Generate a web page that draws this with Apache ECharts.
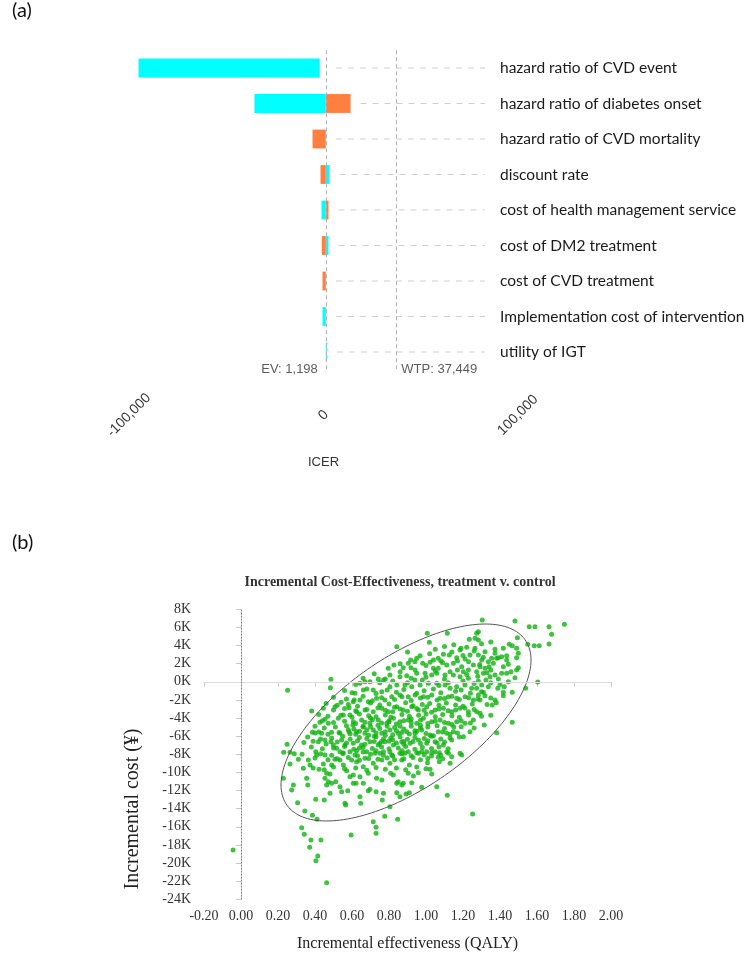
<!DOCTYPE html>
<html>
<head>
<meta charset="utf-8">
<script src="https://cdn.jsdelivr.net/npm/echarts@6/dist/echarts.min.js"></script>
<style>
html,body{margin:0;padding:0;background:#fff;}
#main{width:750px;height:958px;}
</style>
</head>
<body>
<div id="main"></div>
<script>
// ---------- (a) tornado diagram data ----------
const categories = [
  'hazard ratio of CVD event',
  'hazard ratio of diabetes onset',
  'hazard ratio of CVD mortality',
  'discount rate',
  'cost of health management service',
  'cost of DM2 treatment',
  'cost of CVD treatment',
  'Implementation cost of intervention',
  'utility of IGT'
];
const cyanLow   = [-95100, -35500, null, 1198, -1030, 1198, null, -510, 1198];
const cyanHigh  = [-2000, 1198, null, 3085, 1198, 2570, null, 1198, 1700];
const orangeLow = [null, 1198, -5650, -1540, 1198, -870, -510, null, null];
const orangeHigh= [null, 13900, 1198, 1198, 2570, 1198, 1198, null, null];
const evValue = 1198;
const wtpValue = 37449;
const guideEndValue = 83000;
const icerTicks = [-100000, 0, 100000];

// ---------- (b) PSA scatter data: [incremental QALY, incremental cost (K)] ----------
const psaPoints = [
[0.486,0.28],[0.483,-0.65],[0.252,-0.94],[0.382,-3.22],[0.445,-2.93],[0.541,-2.26],[0.508,-2.75],[0.584,-2.86],[0.612,-2.0],
[0.454,-4.14],[0.427,-4.47],[0.472,-4.58],[0.526,-4.03],[0.553,-3.66],[0.589,-3.66],[0.605,-4.77],[0.386,-5.57],[0.4,-5.65],
[0.436,-5.69],[0.49,-5.57],[0.535,-5.69],[0.584,-5.5],[0.418,-6.61],[0.454,-6.42],[0.486,-6.61],[0.499,-6.97],[0.517,-7.34],
[0.544,-6.42],[0.562,-6.97],[0.607,-6.79],[0.589,-7.71],[0.535,-7.71],[0.249,-6.9],[0.231,-7.78],[0.265,-7.78],[0.288,-7.93],[0.404,-7.71],
[0.265,-9.07],[0.31,-8.55],[0.337,-9.55],[0.229,-10.65],[0.283,-11.39],[0.274,-11.94],[0.306,-13.34],[0.355,-10.65],[0.361,-11.39],
[0.345,-14.26],[0.386,-14.73],[0.404,-12.97],[0.411,-15.17],[0.45,-13.04],[0.328,-16.1],[0.342,-16.83],[0.378,-17.46],[0.432,-17.46],
[0.371,-18.26],[0.415,-19.22],[0.405,-19.74],[0.463,-22.17],[-0.043,-18.56],[0.595,-16.9],
[0.409,-8.08],[0.454,-8.08],[0.445,-9.07],[0.49,-9.18],[0.364,-8.63],[0.373,-9.18],[0.422,-9.66],[0.463,-10.1],[0.481,-10.17],
[0.454,-10.65],[0.472,-11.02],[0.463,-11.39],[0.49,-11.2],[0.512,-11.02],[0.535,-11.57],[0.544,-12.13],[0.481,-12.3],[0.508,-8.55],
[0.535,-8.63],[0.553,-9.18],[0.571,-9.81],[0.589,-10.47],[0.577,-12.02],[0.562,-13.41],[0.566,-13.59],[0.598,-8.63],[0.607,-11.2],[0.553,-7.85],
[0.715,-15.44],[0.73,-16.06],[0.73,-16.72],[0.777,-14.84],[0.847,-15.17],[1.115,-12.52],[1.252,-14.59],[0.805,-13.78],[0.764,-13.04],
[0.77,-12.3],[0.842,-12.24],[0.859,-12.68],[0.892,-12.38],[0.91,-12.24],[0.647,-13.41],[0.643,-12.68],[0.688,-12.02],[0.73,-12.13],
[0.622,-11.2],[0.661,-11.2],[0.697,-11.86],[0.761,-10.84],[0.607,-10.28],[0.643,-10.47],[0.688,-10.1],[0.733,-10.65],[0.809,-10.1],
[0.842,-11.2],[0.85,-11.02],[0.877,-11.2],[0.823,-10.28],[0.869,-11.39],[0.923,-11.13],[0.904,-10.1],[0.932,-10.39],[0.958,-10.03],
[0.977,-11.64],[1.008,-8.92],[1.022,-9.66],[1.031,-10.17],[1.058,-11.57],[1.066,-8.33],[1.072,-8.81],[1.13,-8.99],[1.139,-8.26],
[1.193,-8.08],[1.121,-7.89],[0.91,-9.18],[0.869,-8.63],[0.886,-7.89],[0.95,-7.82],[0.977,-7.71],[0.805,-8.99],[0.815,-8.08],[0.77,-7.71],
[0.761,-8.63],[0.715,-8.99],[0.661,-9.37],[0.67,-8.44],[0.625,-8.81],[0.616,-8.08],[0.679,-7.71],[0.724,-7.89],[1.031,-7.82],[1.072,-7.82],
[1.304,6.82],[1.481,6.71],[1.558,6.08],[1.589,6.08],[1.665,6.08],[1.748,6.34],[1.679,5.24],[1.665,4.17],[1.585,3.98],[1.612,3.98],
[1.55,4.13],[1.494,4.87],[1.45,4.13],[1.466,3.98],[1.49,3.69],[1.499,3.14],[1.49,2.66],[1.499,1.56],[1.49,1.3],[1.481,0.45],[1.445,0.01],
[1.466,-1.16],[1.539,-0.72],[1.604,-0.02],[1.466,-4.47],[1.382,-5.61],[1.315,-4.77],[1.358,-2.56],[1.373,-2.01],[1.418,-1.53],[1.418,-1.16],
[1.388,-0.72],[1.423,-0.54],[1.436,2.88],[1.409,2.77],[1.436,2.41],[1.445,1.93],[1.459,1.11],[1.436,0.94],[1.409,0.94],[1.418,1.67],
[1.382,2.59],[1.355,2.59],[1.373,3.14],[1.319,3.32],[1.283,2.96],[1.301,2.41],[1.337,2.22],[1.364,2.04],[1.341,1.67],[1.319,1.49],
[1.292,1.67],[1.274,1.11],[1.31,0.94],[1.346,0.56],[1.373,0.75],[1.391,0.31],[1.324,0.2],[1.283,0.09],[1.301,-0.35],[1.337,-0.54],
[1.274,-0.72],[1.31,-1.16],[1.283,-1.46],[1.319,-1.53],[1.292,-2.01],[1.274,-3.3],[1.292,-3.48],[1.265,4.8],[1.283,4.61],[1.274,5.35],
[1.373,3.59],[1.391,2.66],[1.418,3.69],[1.265,3.69],
[1.007,5.35],[1.115,5.35],[1.018,4.36],[0.842,3.87],[1.234,4.69],[1.189,3.69],[0.968,2.88],[0.827,1.85],[0.796,1.49],[0.919,1.56],
[0.982,2.04],[1.022,2.15],[1.066,2.59],[1.094,3.03],[1.126,2.96],[1.166,2.66],[1.211,2.52],[1.238,2.96],[1.066,1.49],[1.112,1.85],
[1.148,2.04],[1.193,1.67],[1.229,1.3],[1.256,1.85],[0.77,0.2],[0.859,0.56],[0.896,0.67],[0.95,0.94],[0.995,0.94],[1.031,0.75],
[1.058,0.94],[1.103,0.75],[1.148,0.75],[1.184,0.56],[1.229,0.39],[0.697,0.01],[0.661,-0.9],[0.616,-1.27],[0.715,-0.9],[0.761,-1.09],
[0.805,-0.54],[0.842,-0.35],[0.886,-0.35],[0.923,-0.54],[0.968,-0.35],[1.013,-0.17],[1.058,-0.17],[1.103,-0.35],[1.13,-0.72],
[1.166,-0.54],[1.211,-0.35],[1.247,-0.72],
[0.607,-2.2],[0.643,-2.01],[0.688,-2.2],[0.733,-1.82],[0.778,-2.01],[0.815,-1.64],[0.859,-1.46],[0.904,-1.64],[0.941,-1.46],[0.986,-1.64],
[1.031,-1.46],[1.076,-1.82],[1.121,-1.64],[1.166,-1.82],[1.211,-1.64],[1.256,-2.01],
[0.625,-3.3],[0.67,-3.11],[0.715,-3.3],[0.761,-2.92],[0.796,-3.3],[0.842,-2.75],[0.877,-3.11],[0.923,-2.75],[0.959,-3.11],[1.004,-2.75],
[1.049,-3.11],[1.094,-2.92],[1.139,-3.3],[1.184,-2.92],[1.229,-3.3],
[0.607,-4.4],[0.652,-4.22],[0.697,-4.58],[0.742,-4.22],[0.788,-4.58],[0.824,-4.03],[0.859,-4.4],[0.904,-4.22],[0.95,-4.58],[0.986,-4.03],
[1.031,-4.4],[1.076,-4.22],[1.121,-4.58],[1.166,-4.4],[1.211,-4.58],[1.256,-4.22],
[0.625,-5.5],[0.67,-5.69],[0.715,-5.32],[0.761,-5.69],[0.805,-5.32],[0.85,-5.69],[0.896,-5.5],[0.941,-5.69],[0.977,-5.32],[1.022,-5.87],
[1.066,-5.5],[1.112,-5.69],[1.148,-5.5],[1.202,-6.06],[1.238,-5.5],
[0.652,-6.97],[0.697,-6.61],[0.742,-6.97],[0.778,-6.61],[0.824,-6.97],[0.869,-6.61],[0.914,-6.79],[0.959,-6.42],[1.004,-6.79],
[1.049,-6.61],[1.094,-6.97],[1.139,-6.42],
[0.625,-7.6],[0.66,-7.75],[0.751,-7.89],[0.805,-7.71],[0.859,-7.89],[0.904,-7.71],[0.959,-7.89],[1.004,-7.71],[1.049,-7.71],[1.112,-7.71],[1.184,-7.89],
[0.917,2.41],[0.805,0.75],[0.742,0.31],[0.67,0.01],[0.643,-0.17],[0.904,2.04],[0.877,1.56],[0.941,1.3],[1.04,1.49],[1.13,1.11],[1.202,1.11],[1.184,3.51],[1.283,5.53],
[0.56,-0.95],[0.60,-1.2],[0.68,-0.8],[0.73,-1.3],[0.79,-0.9],[0.84,-1.15],[0.88,-0.85],[0.95,-1.25],[0.99,-1.0],[1.04,-0.8],[1.08,-1.2],
[1.16,-1.05],[1.19,-0.9],[1.24,-1.25],[1.30,-1.1],
[0.46,-2.4],[0.52,-2.6],[0.58,-2.5],[0.63,-2.7],[0.70,-2.35],[0.75,-2.55],[0.80,-2.45],[0.83,-2.8],[0.89,-2.3],[0.93,-2.65],[0.98,-2.5],
[1.02,-2.4],[1.07,-2.6],[1.11,-2.35],[1.16,-2.55],[1.20,-2.7],[1.25,-2.45],[1.33,-2.5],[1.38,-2.3],
[0.42,-3.6],[0.47,-3.8],[0.54,-3.7],[0.60,-3.9],[0.64,-3.55],[0.69,-3.75],[0.73,-3.85],[0.78,-3.65],[0.81,-3.9],[0.87,-3.6],[0.91,-3.8],
[0.96,-3.7],[1.00,-3.55],[1.05,-3.85],[1.09,-3.6],[1.14,-3.75],[1.18,-3.9],[1.23,-3.65],[1.30,-3.8],[1.35,-3.7],
[0.40,-4.9],[0.45,-5.1],[0.51,-5.0],[0.57,-4.85],[0.61,-5.2],[0.66,-5.0],[0.70,-4.95],[0.75,-5.15],[0.79,-4.9],[0.83,-5.05],[0.88,-5.2],
[0.92,-4.9],[0.97,-5.1],[1.01,-5.0],[1.06,-4.85],[1.10,-5.15],[1.15,-5.0],[1.19,-4.95],[1.26,-5.1],
[0.36,-6.1],[0.43,-6.3],[0.49,-6.2],[0.55,-6.0],[0.59,-6.35],[0.64,-6.15],[0.68,-6.25],[0.73,-6.05],[0.77,-6.3],[0.81,-6.2],[0.86,-6.1],
[0.90,-6.35],[0.94,-6.15],[0.99,-6.25],[1.03,-6.0],[1.08,-6.3],[1.13,-6.2],[1.18,-6.1],
[0.38,-7.2],[0.44,-7.4],[0.50,-7.3],[0.56,-7.15],[0.61,-7.45],[0.66,-7.25],[0.71,-7.35],[0.76,-7.2],[0.80,-7.4],[0.85,-7.3],[0.89,-7.15],
[0.94,-7.45],[0.98,-7.25],[1.03,-7.35],[1.07,-7.2],[1.12,-7.4],
[0.40,-8.4],[0.47,-8.6],[0.52,-8.5],[0.58,-8.35],[0.64,-8.65],[0.69,-8.45],[0.74,-8.55],[0.79,-8.4],[0.83,-8.6],[0.88,-8.5],[0.93,-8.35],
[0.97,-8.6],[1.01,-8.45],[1.09,-8.5],
[0.72,0.9],[0.78,0.3],[0.86,1.1],[0.92,0.4],[0.98,0.2],[1.05,1.2],[1.10,0.3],[1.17,1.3],[1.22,0.8],[1.28,0.6],[1.33,1.0],
[0.95,2.6],[1.02,3.1],[1.08,2.3],[1.14,3.3],[1.20,2.9],[1.26,3.4],[1.31,2.7],
[0.50,-1.7],[0.57,-1.9],[0.66,-1.6],[0.71,-2.1],[0.76,-1.75],[0.83,-1.95],[0.87,-1.65],[0.92,-2.05],[0.97,-1.8],[1.01,-1.7],[1.06,-2.0],
[1.10,-1.85],[1.14,-1.6],[1.18,-1.95],[1.23,-1.75],[1.28,-1.9],[1.35,-1.8],
[0.50,-3.1],[0.56,-2.95],[0.62,-3.2],[0.68,-3.05],[0.74,-2.9],[0.78,-3.15],[0.82,-3.3],[0.86,-3.0],[0.90,-3.25],[0.95,-2.95],[0.99,-3.15],
[1.03,-3.35],[1.07,-3.0],[1.12,-3.2],[1.16,-3.1],[1.21,-2.9],[1.26,-3.05],
[0.44,-4.3],[0.50,-4.5],[0.56,-4.35],[0.62,-4.6],[0.67,-4.45],[0.71,-4.2],[0.76,-4.55],[0.80,-4.4],[0.84,-4.65],[0.88,-4.3],[0.92,-4.5],
[0.97,-4.25],[1.01,-4.6],[1.05,-4.35],[1.10,-4.5],[1.14,-4.7],[1.19,-4.3],[1.24,-4.55],
[0.42,-5.55],[0.47,-5.8],[0.53,-5.6],[0.59,-5.75],[0.64,-5.45],[0.69,-5.9],[0.73,-5.65],[0.78,-5.5],[0.82,-5.85],[0.87,-5.6],[0.91,-5.75],
[0.95,-5.45],[1.00,-5.7],[1.04,-5.95],[1.09,-5.55],[1.13,-5.8],[1.17,-5.65],
[0.34,-6.7],[0.39,-6.55],[0.46,-6.85],[0.52,-6.65],[0.57,-6.75],[0.63,-6.5],[0.67,-6.9],[0.72,-6.6],[0.75,-6.8],[0.80,-6.55],[0.84,-6.75],
[0.88,-6.9],[0.93,-6.6],[0.97,-6.8],[1.01,-6.5],[1.06,-6.75],[1.10,-6.65],
[0.33,-8.0],[0.43,-7.95],[0.49,-8.1],[0.55,-7.9],[0.63,-8.15],[0.70,-8.0],[0.77,-8.1],[0.82,-8.2],[0.87,-7.95],[0.92,-8.15],[0.99,-8.05],
[1.03,-8.2],[1.08,-8.1],
[0.39,-9.5],[0.45,-9.7],[0.50,-9.4],[0.56,-9.6],[0.62,-9.5],[0.68,-9.75],[0.73,-9.45],[0.78,-9.65],[0.84,-9.5],[0.89,-9.7],[0.95,-9.4],[1.00,-9.6],
[0.62,-0.3],[0.66,0.4],[0.75,-0.1],[0.82,0.1],[0.90,-0.1],[0.94,0.2],[1.00,0.5],[1.07,-0.4],[1.12,-0.1],[1.20,0.1],[1.26,-0.2],[1.35,-0.1],[1.40,-0.3],
[0.86,2.0],[0.94,2.2],[1.00,1.8],[1.04,2.4],[1.09,2.1],[1.17,2.3],[1.23,2.2],[1.29,1.9],[1.35,1.3],
[0.90,3.3],[1.05,3.6],[1.10,3.9],[1.15,4.1],[1.22,3.8],[1.30,4.2],[1.35,4.4],
[0.70,-4.0],[0.74,-4.8],[0.78,-5.9],[0.82,-6.4],[0.86,-4.9],[0.72,-6.0],[0.68,-5.3],[0.76,-6.6],[0.84,-5.4],[0.88,-6.6],[0.80,-4.3],
[0.66,-4.9],[0.73,-7.6],[0.62,-5.8],[0.58,-5.3],[0.94,-5.4],[0.92,-4.1],[0.97,-4.8],[0.64,-7.3],[0.87,-7.6]
];
// 95% confidence ellipse (centre and conjugate semi-axes, in QALY / K units)
const ellipseCenter = [0.892, -4.49];
const ellipseAxisU = [0.6757, 6.897];
const ellipseAxisV = [0, -8.397];

const chart = echarts.init(document.getElementById('main'));

function rangeData(lowArr, highArr) {
  const out = [];
  categories.forEach((c, i) => {
    if (lowArr[i] != null) out.push([lowArr[i], highArr[i], i]);
  });
  return out;
}
function barRender(color) {
  return function (params, api) {
    const idx = api.value(2);
    const p0 = api.coord([api.value(0), idx]);
    const p1 = api.coord([api.value(1), idx]);
    const h = api.size([0, 1])[1] * 0.53;
    return {
      type: 'rect',
      shape: { x: p0[0], y: p0[1] - h / 2, width: Math.max(p1[0] - p0[0], 1), height: h },
      style: { fill: color }
    };
  };
}
const guideData = categories.map((c, i) => {
  const ends = [evValue];
  if (cyanHigh[i] != null) ends.push(cyanHigh[i]);
  if (orangeHigh[i] != null) ends.push(orangeHigh[i]);
  return [Math.max.apply(null, ends), guideEndValue, i];
});

const option = {
  animation: false,
  backgroundColor: '#fff',
  title: {
    text: 'Incremental Cost-Effectiveness, treatment v. control',
    left: 395, top: 570, textAlign: 'center',
    textStyle: { fontFamily: 'Liberation Serif', fontWeight: 'bold', fontSize: 14, color: '#333' }
  },
  graphic: [
    { type: 'text', left: 12, top: 1, style: { text: '(a)', font: '20px Lato', fill: '#111' } },
    { type: 'text', left: 12, top: 533, style: { text: '(b)', font: '20px Lato', fill: '#111' } },
    { type: 'text', x: 133, y: 809, rotation: Math.PI / 2,
      style: { text: 'Incremental cost (\u00a5)', font: '20px "Liberation Serif"', fill: '#222',
               align: 'center', verticalAlign: 'middle', textAlign: 'center', textVerticalAlign: 'middle' } }
  ],
  grid: [
    { left: 129, width: 389, top: 50.25, height: 319.5 },
    { left: 204, right: 139, top: 609.3, bottom: 58.7 }
  ],
  xAxis: [
    {
      gridIndex: 0, type: 'value', min: icerTicks[0], max: icerTicks[2], interval: 100000, offset: 17.5,
      axisLine: { lineStyle: { color: '#333', width: 1.5 } },
      axisTick: { length: 5, lineStyle: { color: '#333', width: 1.5 } },
      axisLabel: { rotate: 45, align: 'center', verticalAlign: 'middle', margin: 28,
        fontFamily: 'Liberation Sans', fontSize: 14, color: '#333',
        formatter: v => v.toLocaleString('en-US') },
      splitLine: { show: false },
      name: 'ICER', nameLocation: 'middle', nameGap: 69,
      nameTextStyle: { fontFamily: 'Liberation Sans', fontSize: 13, color: '#333' }
    },
    {
      gridIndex: 1, type: 'value', min: -0.2, max: 2.0, interval: 0.2, offset: 4,
      axisLine: { lineStyle: { color: '#c8c8c8' } },
      axisTick: { length: 5, lineStyle: { color: '#c8c8c8' } },
      axisLabel: { margin: 6, fontFamily: 'Liberation Serif', fontSize: 14, color: '#333',
        formatter: v => Number(v).toFixed(2) },
      splitLine: { show: false },
      name: 'Incremental effectiveness (QALY)', nameLocation: 'middle', nameGap: 32,
      nameTextStyle: { fontFamily: 'Liberation Serif', fontSize: 16, color: '#222' }
    }
  ],
  yAxis: [
    {
      gridIndex: 0, type: 'category', data: categories, inverse: true, position: 'right',
      axisLine: { show: false }, axisTick: { show: false }, splitLine: { show: false },
      axisLabel: { margin: -18, fontFamily: 'Lato', fontSize: 15.5, color: '#1a1a1a' }
    },
    {
      gridIndex: 1, type: 'value', min: -24, max: 8, interval: 2, offset: 5,
      axisLine: { show: true, lineStyle: { color: '#c8c8c8' } },
      axisTick: { show: true, length: 5, lineStyle: { color: '#c8c8c8' } },
      axisLabel: { margin: 8, fontFamily: 'Liberation Serif', fontSize: 14, color: '#333',
        formatter: '{value}K' },
      splitLine: { show: false }
    }
  ],
  series: [
    {
      type: 'custom', name: 'guides', xAxisIndex: 0, yAxisIndex: 0, silent: true,
      encode: { x: [0, 1], y: 2 },
      data: guideData,
      renderItem: function (params, api) {
        const idx = api.value(2);
        const p0 = api.coord([api.value(0), idx]);
        const p1 = api.coord([api.value(1), idx]);
        return { type: 'line', shape: { x1: p0[0] + 10, y1: p0[1], x2: p1[0], y2: p1[1] },
          style: { stroke: '#cfcfcf', lineWidth: 1, lineDash: [6, 6] } };
      }
    },
    {
      type: 'custom', name: 'low', xAxisIndex: 0, yAxisIndex: 0, z: 3,
      encode: { x: [0, 1], y: 2 },
      data: rangeData(cyanLow, cyanHigh), renderItem: barRender('#00ffff')
    },
    {
      type: 'custom', name: 'high', xAxisIndex: 0, yAxisIndex: 0, z: 3,
      encode: { x: [0, 1], y: 2 },
      data: rangeData(orangeLow, orangeHigh), renderItem: barRender('#ff7f41')
    },
    {
      type: 'scatter', name: 'ref', xAxisIndex: 0, yAxisIndex: 0, symbolSize: 0, silent: true,
      data: [
        { value: [evValue, categories.length - 1],
          label: { show: true, position: 'left', distance: 8, offset: [0, 17],
            formatter: 'EV: ' + evValue.toLocaleString('en-US'),
            fontFamily: 'Liberation Sans', fontSize: 13, color: '#333' } },
        { value: [wtpValue, categories.length - 1],
          label: { show: true, position: 'right', distance: 5, offset: [0, 17],
            formatter: 'WTP: ' + wtpValue.toLocaleString('en-US'),
            fontFamily: 'Liberation Sans', fontSize: 13, color: '#333' } }
      ],
      markLine: {
        silent: true, symbol: 'none', label: { show: false },
        lineStyle: { color: '#b0b0b0', type: [4, 3], width: 1 },
        data: [{ xAxis: evValue }, { xAxis: wtpValue }]
      }
    },
    {
      type: 'scatter', name: 'psa', xAxisIndex: 1, yAxisIndex: 1,
      symbolSize: 5, itemStyle: { color: '#12b212' },
      data: psaPoints,
      markLine: {
        silent: true, symbol: 'none', label: { show: false },
        data: [
          { yAxis: 0, lineStyle: { color: '#dcdcdc', type: 'solid', width: 1 } },
          { xAxis: 0, lineStyle: { color: '#666', type: [1, 2], width: 1 } }
        ]
      }
    },
    {
      type: 'custom', name: 'ellipse', xAxisIndex: 1, yAxisIndex: 1, silent: true, z: 4,
      data: [ellipseCenter],
      renderItem: function (params, api) {
        const pts = [];
        for (let k = 0; k <= 180; k++) {
          const t = 2 * Math.PI * k / 180;
          const x = ellipseCenter[0] + ellipseAxisU[0] * Math.cos(t) + ellipseAxisV[0] * Math.sin(t);
          const y = ellipseCenter[1] + ellipseAxisU[1] * Math.cos(t) + ellipseAxisV[1] * Math.sin(t);
          pts.push(api.coord([x, y]));
        }
        return { type: 'polyline', shape: { points: pts },
          style: { stroke: '#555', lineWidth: 1, fill: null } };
      }
    }
  ]
};
chart.setOption(option);
</script>
</body>
</html>
